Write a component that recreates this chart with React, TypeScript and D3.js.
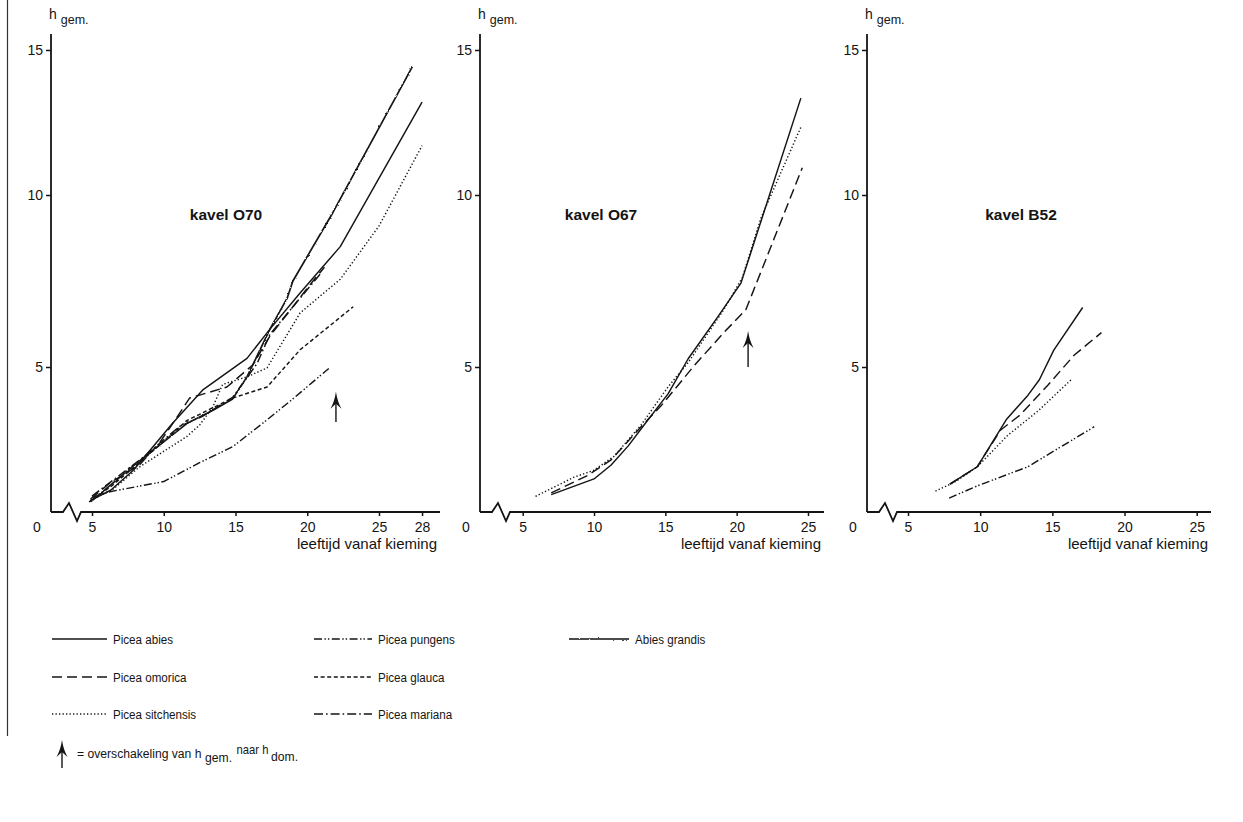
import * as d3 from "d3";
import { useEffect, useRef } from "react";

type Pt = [number, number];

// axis ticks
const heightTicks = [5, 10, 15];
const ageTicksO70 = [5, 10, 15, 20, 25, 28];
const ageTicks = [5, 10, 15, 20, 25];

const speciesNames = [
  "Picea abies",
  "Picea omorica",
  "Picea sitchensis",
  "Picea pungens",
  "Picea glauca",
  "Picea mariana",
  "Abies grandis",
];

// kavel O70  [leeftijd, h gem.]
const o70Abies: Pt[] = [[4.9, 0.4], [6.3, 0.75], [7.9, 1.45], [10.6, 3.05], [12.7, 4.2], [15.8, 5.25], [17.4, 6.1], [19.5, 7.15], [22.3, 8.5], [28, 13.2]];
const o70Omorica: Pt[] = [[4.9, 0.45], [6.25, 1.0], [8.3, 1.62], [9.7, 2.38], [11.1, 3.4], [11.8, 3.93], [12.5, 4.03], [14.4, 4.31], [16.2, 5.06], [17.4, 5.9], [20.4, 7.5], [21.2, 7.9]];
const o70Sitchensis: Pt[] = [[4.9, 0.4], [6.5, 0.8], [8.3, 1.55], [11.6, 2.6], [12.5, 3.0], [13.4, 3.6], [14.1, 4.4], [15.8, 4.66], [17.2, 4.97], [19.5, 6.57], [22.3, 7.55], [25, 9.1], [28, 11.7]];
const o70Pungens: Pt[] = [[5, 0.5], [6.25, 0.7], [10, 1.05], [12.5, 1.7], [14.8, 2.25], [17, 3.1], [19, 3.9], [21.5, 4.95]];
const o70Glauca: Pt[] = [[4.8, 0.35], [6.25, 0.85], [9, 2.0], [11.6, 3.15], [14.8, 3.93], [17.2, 4.31], [19.5, 5.5], [23.2, 6.75]];
const o70Mariana: Pt[] = [[5, 0.55], [8.6, 1.9], [11.1, 2.95], [12.7, 3.3], [14.8, 3.95], [16.5, 5.1], [17.4, 5.95], [19.5, 7.0], [21.0, 7.75]];
const o70Grandis: Pt[] = [[4.9, 0.35], [7.9, 1.6], [11.6, 3.05], [13.4, 3.5], [14.8, 3.9], [15.8, 4.66], [17.4, 6.1], [18.6, 7.0], [19.0, 7.5], [21.8, 9.5], [27.3, 14.4]];

// kavel O67
const o67Abies: Pt[] = [[7.0, 0.6], [10.0, 1.14], [11.2, 1.62], [12.4, 2.28], [13.6, 3.06], [15.2, 4.08], [16.6, 5.24], [18.7, 6.47], [20.3, 7.44], [24.5, 13.34]];
const o67Sitchensis: Pt[] = [[5.9, 0.54], [8.6, 1.2], [10.0, 1.44], [11.4, 1.92], [13.3, 3.0], [15.2, 4.32], [16.6, 5.13], [19.1, 6.67], [20.4, 7.6], [21.7, 9.33], [24.5, 12.34]];
const o67Omorica: Pt[] = [[7.0, 0.66], [9.56, 1.26], [11.2, 1.8], [13.3, 2.94], [14.7, 3.66], [17.0, 5.03], [19.1, 6.0], [20.65, 6.67], [24.6, 10.94]];

// kavel B52
const b52Abies: Pt[] = [[7.9, 0.96], [9.8, 1.56], [11.8, 3.18], [13.3, 4.02], [14.1, 4.56], [15.1, 5.49], [17.1, 6.73]];
const b52Omorica: Pt[] = [[7.9, 0.96], [9.8, 1.56], [11.4, 2.82], [12.8, 3.36], [14.7, 4.38], [16.5, 5.34], [18.4, 6.0]];
const b52Sitchensis: Pt[] = [[6.9, 0.72], [8.2, 1.02], [9.8, 1.56], [11.9, 2.64], [14.0, 3.48], [16.3, 4.56]];
const b52Pungens: Pt[] = [[7.85, 0.48], [9.8, 0.9], [13.3, 1.56], [15.1, 2.1], [17.9, 2.94]];

// switch from h gem. to h dom.: [leeftijd, h tip, h tail]
const o70Switch = [22.0, 4.15, 3.1];
const o67Switch = [20.8, 6.05, 5.0];

const lineStyles: Record<string, { dash: string | null; wavy?: boolean }> = {
  "Picea abies": { dash: null },
  "Picea omorica": { dash: "10,5" },
  "Picea sitchensis": { dash: "1.3,2.2" },
  "Picea pungens": { dash: "8,2.5,1.4,2,1.4,2.5" },
  "Picea glauca": { dash: "4,2.6" },
  "Picea mariana": { dash: "9,3,1.6,3" },
  "Abies grandis": { dash: null, wavy: true },
};

const panels = [
  {
    title: "kavel O70",
    series: {
      "Picea abies": o70Abies,
      "Picea omorica": o70Omorica,
      "Picea sitchensis": o70Sitchensis,
      "Picea pungens": o70Pungens,
      "Picea glauca": o70Glauca,
      "Picea mariana": o70Mariana,
      "Abies grandis": o70Grandis,
    } as Record<string, Pt[]>,
    ticks: ageTicksO70,
    arrow: o70Switch,
    axisX: 51,
    x5: 92,
    x25: 379,
    axisEnd: 440,
    titleX: 226,
  },
  {
    title: "kavel O67",
    series: {
      "Picea abies": o67Abies,
      "Picea omorica": o67Omorica,
      "Picea sitchensis": o67Sitchensis,
    } as Record<string, Pt[]>,
    ticks: ageTicks,
    arrow: o67Switch,
    axisX: 480,
    x5: 522.7,
    x25: 808,
    axisEnd: 824,
    titleX: 601,
  },
  {
    title: "kavel B52",
    series: {
      "Picea abies": b52Abies,
      "Picea omorica": b52Omorica,
      "Picea sitchensis": b52Sitchensis,
      "Picea pungens": b52Pungens,
    } as Record<string, Pt[]>,
    ticks: ageTicks,
    arrow: null as number[] | null,
    axisX: 867,
    x5: 908,
    x25: 1196.7,
    axisEnd: 1211,
    titleX: 1021,
  },
];

const FONT = "'Liberation Sans', Arial, Helvetica, sans-serif";
const INK = "#141414";

export default function App() {
  const ref = useRef<SVGSVGElement>(null);

  useEffect(() => {
    drawChart();
  }, []);

  function drawArrow(g: any, cx: number, tipY: number, tailY: number) {
    g.append("line")
      .attr("x1", cx).attr("x2", cx)
      .attr("y1", tipY + 9).attr("y2", tailY)
      .attr("stroke", INK).attr("stroke-width", 1.4);
    g.append("path")
      .attr("d", `M${cx},${tipY} Q${cx + 1.5},${tipY + 10} ${cx + 5.5},${tipY + 17} L${cx},${tipY + 12} L${cx - 5.5},${tipY + 17} Q${cx - 1.5},${tipY + 10} ${cx},${tipY} Z`)
      .attr("fill", INK);
  }

  function styleLine(sel: any, name: string) {
    const s = lineStyles[name];
    sel.attr("fill", "none")
      .attr("stroke", INK)
      .attr("stroke-width", s.wavy ? 1.7 : 1.45)
      .attr("stroke-linejoin", "round");
    if (s.dash) sel.attr("stroke-dasharray", s.dash);
    if (s.wavy) sel.attr("filter", "url(#wavy)");
  }

  function drawChart() {
    const svg = d3.select(ref.current);
    svg.selectAll("*").remove();

    const defs = svg.append("defs");
    const filt = defs.append("filter")
      .attr("id", "wavy")
      .attr("filterUnits", "userSpaceOnUse")
      .attr("x", -10).attr("y", -10)
      .attr("width", 1263).attr("height", 842);
    filt.append("feTurbulence")
      .attr("type", "fractalNoise")
      .attr("baseFrequency", 0.45)
      .attr("numOctaves", 1)
      .attr("seed", 4)
      .attr("result", "noise");
    filt.append("feDisplacementMap")
      .attr("in", "SourceGraphic")
      .attr("in2", "noise")
      .attr("scale", 2.4)
      .attr("xChannelSelector", "R")
      .attr("yChannelSelector", "G");

    svg.append("rect").attr("width", 1243).attr("height", 822).attr("fill", "#fff");

    // page border on the left
    svg.append("line")
      .attr("x1", 7.5).attr("x2", 7.5).attr("y1", 0).attr("y2", 736)
      .attr("stroke", "#333").attr("stroke-width", 1.2);

    // piecewise scale, follows the drawn tick spacing
    const y = d3.scaleLinear().domain([0, 5, 10, 15]).range([512, 367, 195, 50]);
    const y0 = y(0);

    panels.forEach((p) => {
      const x = d3.scaleLinear().domain([5, 25]).range([p.x5, p.x25]);
      const g = svg.append("g");
      const b = p.axisX;

      // axes
      g.append("line")
        .attr("x1", b).attr("x2", b).attr("y1", 34).attr("y2", y0)
        .attr("stroke", INK).attr("stroke-width", 1.8);
      g.append("path")
        .attr("d", `M${b},${y0}H${b + 12}L${b + 18},${y0 - 9}L${b + 26},${y0 + 9}L${b + 30},${y0}H${p.axisEnd}`)
        .attr("fill", "none")
        .attr("stroke", INK)
        .attr("stroke-width", 1.8)
        .attr("stroke-linejoin", "miter");

      const ya = g.append("g")
        .attr("transform", `translate(${b},0)`)
        .call(d3.axisLeft(y).tickValues(heightTicks).tickSize(5).tickPadding(3).tickFormat(d3.format("d")));
      ya.select(".domain").remove();
      ya.selectAll("line").attr("stroke", INK).attr("stroke-width", 1.5);
      ya.selectAll("text")
        .attr("fill", INK)
        .style("font-family", FONT)
        .style("font-size", "14px");

      const xa = g.append("g")
        .attr("transform", `translate(0,${y0})`)
        .call(d3.axisBottom(x).tickValues(p.ticks).tickSize(4).tickPadding(6).tickFormat(d3.format("d")));
      xa.select(".domain").remove();
      xa.selectAll("line").attr("stroke", INK).attr("stroke-width", 1.5);
      xa.selectAll("text")
        .attr("fill", INK)
        .style("font-family", FONT)
        .style("font-size", "14px");

      g.append("text")
        .attr("x", b - 14).attr("y", y0 + 20)
        .attr("text-anchor", "middle")
        .attr("fill", INK)
        .style("font-family", FONT).style("font-size", "14px")
        .text("0");

      g.append("text")
        .attr("x", p.axisEnd - 3).attr("y", y0 + 37)
        .attr("text-anchor", "end")
        .attr("fill", INK)
        .style("font-family", FONT).style("font-size", "15px")
        .text("leeftijd vanaf kieming");

      const hl = g.append("text")
        .attr("x", b - 2).attr("y", 19)
        .attr("fill", INK)
        .style("font-family", FONT).style("font-size", "14px");
      hl.append("tspan").text("h");
      hl.append("tspan").attr("dx", 4).attr("dy", 5).style("font-size", "12.5px").text("gem.");

      g.append("text")
        .attr("x", p.titleX).attr("y", 220)
        .attr("text-anchor", "middle")
        .attr("fill", INK)
        .style("font-family", FONT)
        .style("font-size", "15.5px")
        .style("font-weight", "700")
        .text(p.title);

      const line = d3.line<Pt>()
        .x((d) => x(d[0]))
        .y((d) => y(d[1]));

      speciesNames.forEach((name) => {
        const pts = p.series[name];
        if (!pts) return;
        const path = g.append("path").attr("d", line(pts));
        styleLine(path, name);
      });

      if (p.arrow) {
        drawArrow(g, x(p.arrow[0]), y(p.arrow[1]), y(p.arrow[2]));
      }
    });

    // legend
    const legendCols = [
      { lineX: 52, textX: 113, names: ["Picea abies", "Picea omorica", "Picea sitchensis"] },
      { lineX: 314, textX: 378, names: ["Picea pungens", "Picea glauca", "Picea mariana"] },
      { lineX: 569, textX: 635, names: ["Abies grandis"] },
    ];
    const rowY = [639, 677, 714];
    const lg = svg.append("g");
    legendCols.forEach((c) => {
      c.names.forEach((name, i) => {
        const l = lg.append("path")
          .attr("d", `M${c.lineX},${rowY[i]}H${c.textX - 6}`);
        styleLine(l, name);
        // narrow type like the print
        lg.append("text")
          .attr("transform", `translate(${c.textX},${rowY[i] + 5}) scale(0.86,1)`)
          .attr("fill", INK)
          .style("font-family", FONT).style("font-size", "13.5px")
          .text(name);
      });
    });

    drawArrow(lg, 62, 740, 768);
    const note = lg.append("text")
      .attr("transform", "translate(77,758) scale(0.9,1)")
      .attr("fill", INK)
      .style("font-family", FONT).style("font-size", "13.5px");
    note.append("tspan").text("= overschakeling van h");
    note.append("tspan").attr("dx", 4).attr("dy", 4).text("gem.");
    note.append("tspan").attr("dx", 5).attr("dy", -8).style("font-size", "12.5px").text("naar h");
    note.append("tspan").attr("dx", 3).attr("dy", 7).text("dom.");
  }

  return (
    <svg
      ref={ref}
      width={1243}
      height={822}
      style={{ position: "absolute", left: 0, top: 0, background: "#fff" }}
    />
  );
}
